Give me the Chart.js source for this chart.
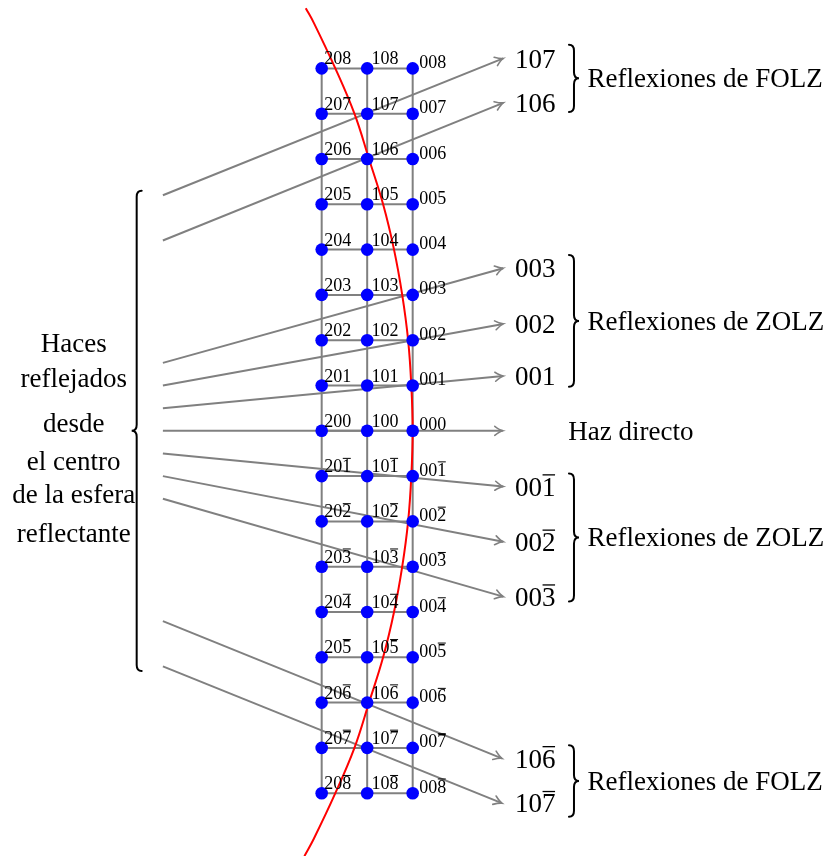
<!DOCTYPE html>
<html><head><meta charset="utf-8">
<script src="https://cdn.jsdelivr.net/npm/chart.js@4/dist/chart.umd.min.js"></script>
<style>html,body{margin:0;padding:0;background:#fff}#wrap{width:825px;height:856px}</style>
</head><body><div id="wrap"><canvas id="c" width="825" height="856"></canvas></div>
<script>
// ---- Reciprocal lattice (h0l) ----
const hIndices = [2, 1, 0];
const lIndices = [8, 7, 6, 5, 4, 3, 2, 1, 0, -1, -2, -3, -4, -5, -6, -7, -8];

// ---- Ewald sphere trace (x = -h, y = l, lattice units) ----
const sphereV = [9.33, 9, 8, 7, 6, 5, 4, 3, 2, 1, 0, -1, -2, -3, -4, -5, -6, -7, -8, -9, -9.39];
const sphereU = [-2.35, -2.17, -1.70, -1.28, -0.96, -0.65, -0.41, -0.23, -0.10, -0.03, 0, -0.03, -0.10, -0.23, -0.41, -0.65, -0.96, -1.28, -1.70, -2.17, -2.38];

// ---- Diffracted beams ----
const beamStartU = [-5.49, -5.49, -5.49, -5.49, -5.49, -5.49, -5.49, -5.49, -5.49, -5.49, -5.49];
const beamStartV = [5.2, 4.2, 1.5, 1.0, 0.5, 0, -0.5, -1.0, -1.5, -4.2, -5.2];
const beamEndU   = [1.99, 1.99, 1.99, 1.99, 1.99, 1.98, 1.99, 1.99, 1.99, 1.96, 1.96];
const beamEndV   = [8.22, 7.24, 3.59, 2.36, 1.21, 0, -1.23, -2.45, -3.66, -7.23, -8.22];
const beamH      = [1, 1, 0, 0, 0, null, 0, 0, 0, 1, 1];
const beamL      = [7, 6, 3, 2, 1, 0, -1, -2, -3, -6, -7];

// ---- Groups ----
const groupNames = ['Reflexiones de FOLZ', 'Reflexiones de ZOLZ', 'Reflexiones de ZOLZ', 'Reflexiones de FOLZ'];
const groupTopV  = [8.52, 3.88, -0.94, -6.94];
const groupBotV  = [7.04, 0.97, -3.77, -8.52];
const directLabel = 'Haz directo';
const leftLines = ['Haces', 'reflejados', 'desde', 'el centro', 'de la esfera', 'reflectante'];

// ---- Layout (annotation placement, in lattice units) ----
const layout = {
  xMin: -9.070, xMax: 9.062, yMin: -9.386, yMax: 9.510,
  beamLabelU: 2.25, braceU: 3.545, groupTextU: 3.84, directU: 3.42,
  leftBraceU: -6.066, leftBraceTop: 5.30, leftBraceBot: -5.30,
  leftTextU: -7.45, leftTextV: [1.74, 0.97, -0.02, -0.87, -1.60, -2.45]
};
const SERIF = '"Liberation Serif", "Times New Roman", serif';
const GRAY = '#808080';

// ---- datasets ----
const datasets = [];
lIndices.forEach(l => datasets.push({
  data: [{x: -hIndices[0], y: l}, {x: -hIndices[hIndices.length - 1], y: l}],
  showLine: true, borderColor: GRAY, borderWidth: 2, pointRadius: 0, order: 3
}));
hIndices.forEach(h => datasets.push({
  data: [{x: -h, y: lIndices[0]}, {x: -h, y: lIndices[lIndices.length - 1]}],
  showLine: true, borderColor: GRAY, borderWidth: 2, pointRadius: 0, order: 3
}));
beamStartV.forEach((v, i) => datasets.push({
  data: [{x: beamStartU[i], y: v}, {x: beamEndU[i], y: beamEndV[i]}],
  showLine: true, borderColor: GRAY, borderWidth: 2, pointRadius: 0, order: 2, isBeam: true
}));
datasets.push({
  data: sphereV.map((v, i) => ({x: sphereU[i], y: v})),
  showLine: true, borderColor: '#ff0000', borderWidth: 2, pointRadius: 0, tension: 0.4, order: 1
});
const pts = [];
lIndices.forEach(l => hIndices.forEach(h => pts.push({x: -h, y: l, h, l})));
datasets.push({
  data: pts, showLine: false, pointRadius: 6.3, pointBackgroundColor: '#0000ff',
  pointBorderColor: '#0000ff', pointBorderWidth: 0, order: 0, isLattice: true
});

function drawIndex(ctx, h, l, x, y, size) {
  const txt = `${h}0${Math.abs(l)}`;
  ctx.font = `${size}px ${SERIF}`;
  ctx.textAlign = 'left';
  ctx.textBaseline = 'alphabetic';
  ctx.fillText(txt, x, y);
  if (l < 0) {
    const w = ctx.measureText(txt).width;
    const wl = ctx.measureText(txt.slice(-1)).width;
    const yb = y - size * 0.68 - (size > 20 ? 2.5 : 1.5);
    ctx.save();
    ctx.strokeStyle = ctx.fillStyle;
    ctx.lineWidth = size > 20 ? 1.3 : 1;
    ctx.beginPath();
    ctx.moveTo(x + w - wl + 0.5, yb);
    ctx.lineTo(x + w - 0.5, yb);
    ctx.stroke();
    ctx.restore();
  }
}

function brace(ctx, x, yTop, yBot, dir) {
  const yTip = (yTop + yBot) / 2, hk = 5, tp = 5, r = 6;
  ctx.beginPath();
  ctx.moveTo(x - dir * hk, yTop);
  ctx.quadraticCurveTo(x, yTop, x, yTop + r);
  ctx.lineTo(x, yTip - r);
  ctx.quadraticCurveTo(x, yTip, x + dir * tp, yTip);
  ctx.quadraticCurveTo(x, yTip, x, yTip + r);
  ctx.lineTo(x, yBot - r);
  ctx.quadraticCurveTo(x, yBot, x - dir * hk, yBot);
  ctx.stroke();
}

const deco = {
  id: 'deco',
  afterDatasetsDraw(chart) {
    const {ctx} = chart;
    const sx = chart.scales.x, sy = chart.scales.y;
    const X = u => sx.getPixelForValue(u), Y = v => sy.getPixelForValue(v);
    ctx.save();
    // arrowheads
    chart.data.datasets.forEach((ds, i) => {
      if (!ds.isBeam) return;
      const m = chart.getDatasetMeta(i).data;
      const a = m[0], b = m[1];
      const ang = Math.atan2(b.y - a.y, b.x - a.x);
      ctx.save();
      ctx.translate(b.x, b.y); ctx.rotate(ang);
      ctx.strokeStyle = GRAY; ctx.lineWidth = 1.6; ctx.lineCap = 'round';
      ctx.beginPath();
      ctx.moveTo(-8, -4.5); ctx.quadraticCurveTo(-3, -0.8, 0, 0);
      ctx.quadraticCurveTo(-3, 0.8, -8, 4.5);
      ctx.stroke();
      ctx.restore();
    });
    // lattice labels
    ctx.fillStyle = '#000';
    const latIdx = chart.data.datasets.findIndex(d => d.isLattice);
    const meta = chart.getDatasetMeta(latIdx).data;
    pts.forEach((p, i) => {
      const el = meta[i];
      const dx = p.h === 2 ? 2.6 : (p.h === 1 ? 4.4 : 6.6);
      const dy = p.h === 0 ? -0.5 : -4;
      drawIndex(ctx, p.h, p.l, el.x + dx, el.y + dy, 18);
    });
    // beam labels
    beamH.forEach((h, i) => {
      if (h === null) return;
      drawIndex(ctx, h, beamL[i], X(layout.beamLabelU), Y(beamEndV[i]) + 9.2, 27);
    });
    // direct beam
    ctx.font = `27px ${SERIF}`; ctx.textAlign = 'left'; ctx.textBaseline = 'alphabetic';
    ctx.fillText(directLabel, X(layout.directU), Y(0) + 9.5);
    // group braces and names
    ctx.strokeStyle = '#000'; ctx.lineWidth = 2; ctx.lineCap = 'round';
    groupNames.forEach((name, i) => {
      const yt = Y(groupTopV[i]), yb = Y(groupBotV[i]);
      brace(ctx, X(layout.braceU), yt, yb, 1);
      ctx.fillText(name, X(layout.groupTextU), (yt + yb) / 2 + 9);
    });
    // left brace and text
    brace(ctx, X(layout.leftBraceU), Y(layout.leftBraceTop), Y(layout.leftBraceBot), -1);
    ctx.textAlign = 'center';
    leftLines.forEach((t, i) => ctx.fillText(t, X(layout.leftTextU), Y(layout.leftTextV[i])));
    ctx.restore();
  }
};

new Chart(document.getElementById('c'), {
  type: 'scatter',
  data: {datasets},
  options: {
    responsive: false, devicePixelRatio: 1, animation: false, events: [],
    layout: {padding: 0, autoPadding: false},
    plugins: {legend: {display: false}, tooltip: {enabled: false}},
    scales: {
      x: {type: 'linear', min: layout.xMin, max: layout.xMax, bounds: 'data', display: false},
      y: {type: 'linear', min: layout.yMin, max: layout.yMax, bounds: 'data', display: false}
    }
  },
  plugins: [deco]
});
</script></body></html>
